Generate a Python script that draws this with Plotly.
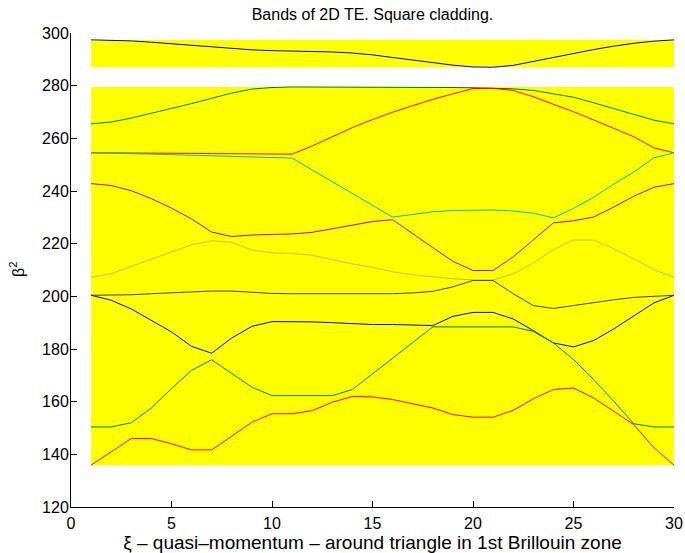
import plotly.graph_objects as go

# quasi-momentum sample index along the Brillouin-zone path
xi = list(range(1, 31))

# band values beta^2, listed from the highest band down
band_1 = [297.4, 297.3, 297.0, 296.5, 295.9, 295.3, 294.7, 294.1, 293.6, 293.3,
          293.2, 293.1, 292.8, 292.4, 291.7, 290.7, 289.7, 288.7, 287.8, 287.1,
          287.0, 287.7, 289.2, 290.7, 292.3, 293.7, 295.0, 296.1, 296.9, 297.4]
band_2 = [265.5, 266.2, 267.7, 269.5, 271.3, 273.2, 275.2, 277.2, 278.7, 279.3,
          279.5, 279.5, 279.5, 279.4, 279.4, 279.4, 279.3, 279.3, 279.3, 279.2,
          279.1, 278.8, 278.2, 277.0, 275.6, 273.5, 271.3, 269.1, 266.9, 265.5]
band_3 = [254.5, 254.5, 254.4, 254.4, 254.3, 254.3, 254.2, 254.2, 254.1, 254.1,
          254.0, 257.1, 260.6, 264.1, 267.1, 269.9, 272.4, 274.8, 276.9, 278.9,
          279.0, 278.2, 275.8, 273.1, 270.1, 267.0, 263.9, 260.6, 256.4, 254.5]
band_4 = [254.5, 254.4, 254.2, 254.0, 253.8, 253.6, 253.3, 253.0, 252.8, 252.6,
          252.5, 248.0, 243.5, 239.0, 234.5, 230.1, 231.1, 232.1, 232.6, 232.8,
          232.8, 232.4, 231.6, 229.8, 233.4, 237.6, 242.6, 247.2, 252.6, 254.5]
band_5 = [242.8, 242.1, 240.1, 237.1, 233.5, 229.4, 224.4, 222.7, 223.3, 223.5,
          223.7, 224.3, 225.7, 227.2, 228.4, 229.1, 223.7, 218.5, 213.3, 209.8,
          209.8, 215.0, 221.4, 227.9, 228.7, 230.1, 233.9, 238.0, 241.4, 242.8]
band_6 = [207.2, 208.6, 211.4, 214.2, 217.1, 219.6, 221.1, 220.5, 217.6, 216.5,
          216.3, 215.6, 213.9, 212.3, 211.0, 209.3, 208.2, 207.4, 206.7, 206.2,
          206.2, 208.5, 212.7, 217.7, 221.4, 221.4, 218.1, 214.2, 210.1, 207.2]
band_7 = [200.4, 200.4, 200.6, 201.0, 201.4, 201.8, 202.0, 202.0, 201.5, 201.1,
          201.0, 201.0, 201.0, 200.9, 200.9, 201.0, 201.3, 201.9, 203.6, 206.0,
          206.0, 201.0, 196.5, 195.4, 196.5, 197.7, 198.7, 199.6, 200.1, 200.4]
band_8 = [200.4, 198.5, 195.2, 190.9, 186.5, 181.0, 178.4, 184.2, 188.6, 190.4,
          190.4, 190.3, 190.0, 189.6, 189.3, 189.3, 189.0, 188.9, 192.4, 193.9,
          193.9, 191.4, 187.0, 182.3, 180.8, 183.2, 187.6, 192.4, 197.5, 200.4]
band_9 = [150.4, 150.4, 152.0, 157.6, 165.0, 171.9, 175.9, 170.7, 165.5, 162.3,
          162.3, 162.3, 162.3, 164.6, 170.6, 176.5, 182.5, 188.4, 188.4, 188.4,
          188.4, 188.4, 186.7, 182.3, 176.0, 168.4, 160.2, 151.6, 150.4, 150.4]
band_10 = [135.9, 141.0, 146.0, 146.0, 144.0, 141.7, 141.7, 146.9, 152.2, 155.4,
           155.4, 156.6, 159.8, 162.0, 161.8, 160.8, 159.3, 157.6, 155.1, 154.1,
           154.1, 156.7, 161.1, 164.6, 165.2, 161.4, 156.4, 151.3, 142.5, 135.9]

bands = [band_1, band_2, band_3, band_4, band_5,
         band_6, band_7, band_8, band_9, band_10]

# default line colour cycle
line_colors = ["#0000FF", "#008000", "#FF0000", "#00BFBF", "#BF00BF",
               "#BFBF00", "#404040", "#0000FF", "#008000", "#FF0000"]

# pass bands: the top band on its own, the other nine bands together
pass_groups = [[band_1], bands[1:]]

fig = go.Figure()

for group in pass_groups:
    lo = min(min(b) for b in group)
    hi = max(max(b) for b in group)
    x0, x1 = min(xi), max(xi)
    fig.add_trace(go.Scatter(
        x=[x0, x1, x1, x0, x0], y=[lo, lo, hi, hi, lo],
        mode="lines", fill="toself", fillcolor="#FFFF00",
        line=dict(width=0, color="#FFFF00"), hoverinfo="skip",
        showlegend=False))

for b, c in zip(bands, line_colors):
    fig.add_trace(go.Scatter(x=xi, y=b, mode="lines",
                             line=dict(color=c, width=1),
                             showlegend=False))

font_family = "Liberation Sans, Arial, Helvetica, sans-serif"

fig.update_layout(
    width=685, height=553,
    margin=dict(l=71, r=11, t=33, b=45.5),
    paper_bgcolor="white", plot_bgcolor="white",
    font=dict(family=font_family, size=16, color="black"),
    title=dict(text="Bands of 2D TE. Square cladding.",
               x=(71 + 674) / 2 / 685, xanchor="center",
               y=1 - 14 / 553, yanchor="middle", yref="container",
               font=dict(size=16)),
    xaxis=dict(range=[0, 30], tick0=0, dtick=5, ticks="inside", ticklen=6,
               tickcolor="black", showline=True, linecolor="black",
               linewidth=1, showgrid=False, zeroline=False, mirror=False,
               automargin=False, ticklabelstandoff=2,
               title=dict(text="ξ – quasi–momentum – around triangle in 1st Brillouin zone",
                          standoff=10)),
    yaxis=dict(range=[120, 300], tick0=120, dtick=20, ticks="inside",
               ticklen=6, tickcolor="black", showline=True,
               linecolor="black", linewidth=1, showgrid=False,
               zeroline=False, mirror=False, automargin=False,
               ticklabelstandoff=-2),
    annotations=[dict(text="β<sup>2</sup>", textangle=-90,
                      xref="paper", yref="paper",
                      x=(17 - 71) / 603, y=0.5,
                      xanchor="center", yanchor="middle",
                      showarrow=False, font=dict(size=16))],
)

fig.write_html("out.html")
